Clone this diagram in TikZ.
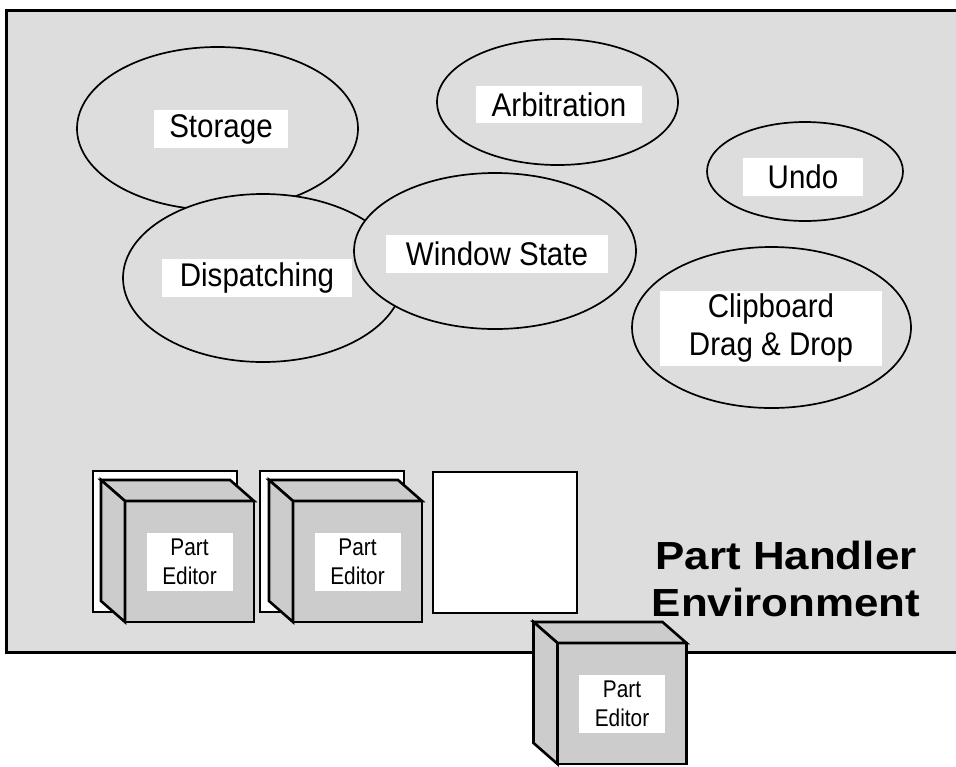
\documentclass[tikz,border=0pt]{standalone}
\usepackage{fontspec}
\setmainfont{Liberation Sans}
\newfontfamily\labelfont[FakeStretch=0.9]{Liberation Sans}
\newfontfamily\editorfont[FakeStretch=0.86]{Liberation Sans}
\newfontfamily\titlefont[FakeStretch=1.12]{Liberation Sans}
\usetikzlibrary{shapes.geometric,positioning}
\definecolor{ink}{RGB}{0,0,0}
\definecolor{envgray}{RGB}{221,221,221}
\definecolor{cubegray}{RGB}{204,204,204}
\tikzset{
  every picture/.style={color=ink, line width=0.85pt},
  env/.style={draw=ink, fill=envgray, line width=1.5pt},
  bubble/.style={ellipse, draw=ink, fill=envgray, line width=0.85pt, inner sep=0pt, outer sep=0pt},
  tag/.style={fill=white, inner sep=0pt, align=center, font=\labelfont\fontsize{16.4}{19}\selectfont},
  edtag/.style={tag, minimum width=43pt, minimum height=29pt, font=\editorfont\fontsize{12.1}{14.5}\selectfont},
  slot/.style={draw=ink, fill=white, line width=1pt, minimum width=72pt, minimum height=70.5pt, inner sep=0pt},
  front/.style={draw=ink, fill=cubegray, line width=1.3pt, minimum width=64.5pt, minimum height=60.5pt, inner sep=0pt, outer sep=0pt},
  side/.style={draw=ink, fill=cubegray, line width=1.3pt},
  title/.style={inner sep=0pt, align=center, font=\titlefont\bfseries\fontsize{19.6}{23.5}\selectfont},
}

\begin{document}
\begin{tikzpicture}[x=0.5pt, y=-0.5pt]
  \clip (0,0) rectangle (956,766);
  \draw[env] (6,10) rectangle (975,652);
  % services of the environment
  \node[bubble, minimum width=140.5pt, minimum height=81.5pt] (storage) at (217.5,128.5) {};
  \node[tag, minimum width=67pt, minimum height=19pt] (storagetag) at (221,129) {Storage};
  \node[bubble, minimum width=120.5pt, minimum height=63pt] (arbit) at (557.5,102) {};
  \node[tag, minimum width=83pt, minimum height=18.5pt] (arbittag) at (559,104.5) {Arbitration};
  \node[bubble, minimum width=98pt, minimum height=49.5pt] (undo) at (805,171.5) {};
  \node[tag, minimum width=60pt, minimum height=19pt] (undotag) at (803,177) {Undo};
  \node[bubble, minimum width=139.5pt, minimum height=80.5pt] (clip) at (771.5,327.5) {};
  \node[tag, minimum width=111pt, minimum height=37.5pt] (cliptag) at (771,328.5) {Clipboard\\Drag \& Drop};
  \node[bubble, minimum width=140pt, minimum height=84pt] (dispatch) at (263,278) {};
  \node[tag, minimum width=95pt, minimum height=19pt] (dispatchtag) at (257,278) {Dispatching};
  \node[bubble, minimum width=141pt, minimum height=78pt] (winstate) at (495,251) {};
  \node[tag, minimum width=111pt, minimum height=19pt] (winstatetag) at (497,254) {Window State};
  % editor slots and editors
  \node[slot] (slot1) at (164.5,541.5) {};
  \node[slot] (slot2) at (332,541.5) {};
  \node[slot] (slot3) at (504.5,542) {};
  \node[front] (pe1) at (189.5,561.5) {};
  \node[front] (pe2) at (357.5,561.5) {};
  \node[front] (pe3) at (622,703.5) {};
  \foreach \pe in {pe1,pe2,pe3} {
    \draw[side] (\pe.north west) -- ++(-24,-21) -- ++(129,0) -- (\pe.north east) -- cycle;
    \draw[side] (\pe.north west) -- ++(-24,-21) -- ++(0,121) -- (\pe.south west) -- cycle;
  }
  \node[edtag] (pe1tag) at (pe1) {Part\\Editor};
  \node[edtag] (pe2tag) at (pe2) {Part\\Editor};
  \node[edtag] (pe3tag) at (pe3) {Part\\Editor};
  \node[title, anchor=north] (envtitle) at (786,540) {Part Handler\\Environment};
\end{tikzpicture}
\end{document}
